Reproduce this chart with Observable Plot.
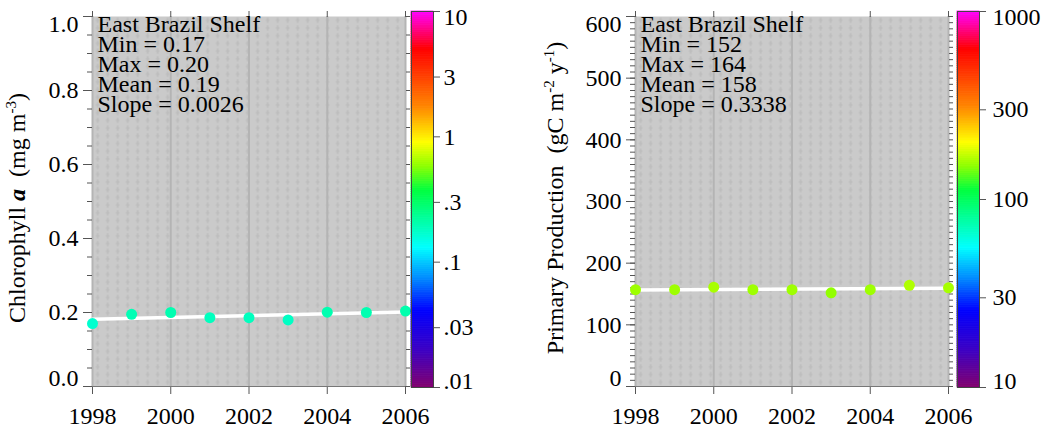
<!DOCTYPE html>
<html>
<head>
<meta charset="utf-8">
<script src="https://cdn.jsdelivr.net/npm/d3@7"></script>
<script src="https://cdn.jsdelivr.net/npm/@observablehq/plot@0.6"></script>
<style>
  body { margin: 0; background: #fff; }
  #wrap { position: relative; width: 1052px; height: 432px; overflow: hidden;
          font-family: "Liberation Serif", "Times New Roman", serif; color: #000; }
  #wrap svg text { font-family: "Liberation Serif", "Times New Roman", serif !important; }
  .abs { position: absolute; top: 0; }
  .ylab { position: absolute; font-size: 24px; white-space: nowrap;
          transform: translate(-50%, -50%) rotate(-90deg); line-height: 1; }
  .ylab .sup { font-size: 15px; position: relative; top: -9px; }
</style>
</head>
<body>
<div id="wrap">
  <div class="ylab" style="left:17px; top:208px;">Chlorophyll <b><i>a</i></b>&nbsp; (mg m<span class="sup">-3</span>)</div>
  <div class="ylab" style="left:555px; top:198px;">Primary Production&nbsp; (gC m<span class="sup">-2</span> y<span class="sup">-1</span>)</div>
</div>
<script>
// ---- data ----
const years = [1998, 1999, 2000, 2001, 2002, 2003, 2004, 2005, 2006];
const chlValues = [0.170, 0.195, 0.200, 0.186, 0.186, 0.180, 0.201, 0.200, 0.204];
const ppValues = [157, 157, 161, 157, 157, 152, 157, 164, 160];

const yearTicks = [1998, 2000, 2002, 2004, 2006];
const chlYTicks = [0, 0.2, 0.4, 0.6, 0.8, 1.0];
const chlYLabels = ["0.0", "0.2", "0.4", "0.6", "0.8", "1.0"];
const ppYTicks = [0, 100, 200, 300, 400, 500, 600];
const ppYLabels = ["0", "100", "200", "300", "400", "500", "600"];

const chlBarTicks = [0.01, 0.03, 0.1, 0.3, 1, 3, 10];
const chlBarLabels = [".01", ".03", ".1", ".3", "1", "3", "10"];
const ppBarTicks = [10, 30, 100, 300, 1000];
const ppBarLabels = ["10", "30", "100", "300", "1000"];

const chlText = ["East Brazil Shelf", "Min = 0.17", "Max = 0.20", "Mean = 0.19", "Slope = 0.0026"];
const ppText = ["East Brazil Shelf", "Min = 152", "Max = 164", "Mean = 158", "Slope = 0.3338"];

// colour ramp (position 0 = bottom of colour bar, 1 = top)
const rampStops  = [0, 0.10, 0.205, 0.285, 0.372, 0.45, 0.524, 0.59, 0.652, 0.745, 0.90, 1];
const rampColors = ["#82006e", "#3c00c4", "#0000ff", "#0082ff", "#00ffff", "#00ff9c", "#00ff40",
                    "#90ff00", "#ffff00", "#ff8800", "#ff0000", "#ff00ff"];

// ---- build ----
const rainbow = d3.scaleLinear().domain(rampStops).range(rampColors).interpolate(d3.interpolateRgb).clamp(true);
const chlData = years.map((y, i) => ({year: y, value: chlValues[i]}));
const ppData = years.map((y, i) => ({year: y, value: ppValues[i]}));

const chlMinor = d3.range(0, 1.0001, 0.05);
const ppMinor = d3.range(0, 600.1, 10);

const FONT = "Liberation Serif, Times New Roman, serif";
const TICK = "#555";
const wrap = document.getElementById("wrap");

function place(svg, left) {
  svg.classList.add("abs");
  svg.style.left = left + "px";
  wrap.appendChild(svg);
}

function addPattern(svg, id, x0, y0) {
  const ns = "http://www.w3.org/2000/svg";
  const defs = document.createElementNS(ns, "defs");
  defs.innerHTML =
    `<pattern id="${id}" patternUnits="userSpaceOnUse" x="${x0}" y="${y0}" width="10" height="7.7">
       <rect width="10" height="7.7" fill="#cacaca"/>
       <rect x="4.5" y="1.2" width="1.3" height="5.2" fill="#bababa"/>
       <rect x="3.3" y="3.2" width="3.7" height="1.2" fill="#bdbdbd"/>
     </pattern>`;
  svg.insertBefore(defs, svg.firstChild);
}

function panel({data, yDomain, yTicks, yLabels, minor, colorDomain, text, left, marginLeft, plotRight, id}) {
  const width = plotRight - left + 6;
  const ends = [yDomain[0], yDomain[1]];
  const svg = Plot.plot({
    width, height: 432,
    marginLeft, marginRight: 6, marginTop: 16, marginBottom: 46,
    x: {domain: [1998, 2006]},
    y: {domain: yDomain},
    color: {type: "log", domain: colorDomain, interpolate: t => rainbow(t)},
    style: {fontFamily: FONT, fontSize: "24px", color: "#000", background: "transparent", overflow: "visible"},
    marks: [
      Plot.frame({fill: `url(#${id})`, stroke: null}),
      Plot.gridX(yearTicks, {stroke: "#b4b4b4", strokeOpacity: 1, strokeWidth: 2}),
      Plot.axisY(yTicks, {tickSize: 9, tickPadding: 5, label: null, stroke: TICK,
        tickFormat: d => ends.includes(d) ? "" : yLabels[yTicks.indexOf(d)]}),
      Plot.axisY([yDomain[0]], {tickSize: 0, tickPadding: 14, dy: -8, label: null,
        tickFormat: d => yLabels[yTicks.indexOf(d)]}),
      Plot.axisY([yDomain[1]], {tickSize: 0, tickPadding: 14, dy: 8, label: null,
        tickFormat: d => yLabels[yTicks.indexOf(d)]}),
      Plot.axisY(minor, {tickSize: 5, tickFormat: () => "", label: null, stroke: TICK}),
      Plot.axisY(minor, {anchor: "right", tickSize: 4, tickFormat: () => "", label: null, stroke: TICK}),
      Plot.axisX(yearTicks, {tickSize: 8, tickPadding: 12, tickFormat: d => String(d), label: null, stroke: TICK}),
      Plot.axisX(yearTicks, {anchor: "top", tickSize: 6, tickFormat: () => "", label: null, stroke: TICK}),
      Plot.ruleY([yDomain[0]], {stroke: "#777", strokeWidth: 1}),
      Plot.linearRegressionY(data, {x: "year", y: "value", stroke: "#fff", strokeWidth: 3.5, ci: 0}),
      Plot.dot(data, {x: "year", y: "value", fill: "value", r: 5.5}),
      Plot.text([text.join("\n")], {frameAnchor: "top-left", dx: 5, dy: 1, lineHeight: 0.84,
        fontSize: 24, fill: "#000", textAnchor: "start", lineAnchor: "top"})
    ]
  });
  addPattern(svg, id, marginLeft, 16);
  return svg;
}

function colorBar({domain, ticks, labels, width, pad}) {
  const n = 200;
  const l0 = Math.log10(domain[0]), l1 = Math.log10(domain[1]);
  const slices = d3.range(n).map(i => ({
    lo: Math.pow(10, l0 + (l1 - l0) * i / n),
    hi: Math.pow(10, l0 + (l1 - l0) * (i + 1) / n)
  }));
  const mid = d => Math.sqrt(d.lo * d.hi);
  const ends = [domain[0], domain[1]];
  return Plot.plot({
    width, height: 432,
    marginLeft: 0, marginRight: width - 22, marginTop: 11, marginBottom: 45,
    y: {type: "log", domain},
    color: {type: "log", domain, interpolate: t => rainbow(t)},
    style: {fontFamily: FONT, fontSize: "24px", color: "#000", background: "transparent", overflow: "visible"},
    marks: [
      Plot.rect(slices, {y1: "lo", y2: "hi", fill: mid, stroke: mid, strokeWidth: 0.8}),
      Plot.frame({stroke: "#444", strokeWidth: 1}),
      Plot.axisY(ticks, {anchor: "right", tickSize: 6, tickPadding: pad, stroke: TICK, label: null,
        tickFormat: d => ends.includes(d) ? "" : labels[ticks.indexOf(d)]}),
      Plot.axisY([domain[0]], {anchor: "right", tickSize: 0, tickPadding: 6 + pad, dy: -6, label: null,
        tickFormat: d => labels[ticks.indexOf(d)]}),
      Plot.axisY([domain[1]], {anchor: "right", tickSize: 0, tickPadding: 6 + pad, dy: 6, label: null,
        tickFormat: d => labels[ticks.indexOf(d)]})
    ]
  });
}

place(panel({data: chlData, yDomain: [0, 1], yTicks: chlYTicks, yLabels: chlYLabels, minor: chlMinor,
  colorDomain: [0.01, 10], text: chlText, left: 0, marginLeft: 92, plotRight: 405, id: "bgChl"}), 0);
place(colorBar({domain: [0.01, 10], ticks: chlBarTicks, labels: chlBarLabels, width: 80, pad: 4}), 411);

place(panel({data: ppData, yDomain: [0, 600], yTicks: ppYTicks, yLabels: ppYLabels, minor: ppMinor,
  colorDomain: [10, 1000], text: ppText, left: 540, marginLeft: 95, plotRight: 948, id: "bgPP"}), 540);
place(colorBar({domain: [10, 1000], ticks: ppBarTicks, labels: ppBarLabels, width: 95, pad: 7}), 957);
</script>
</body>
</html>
